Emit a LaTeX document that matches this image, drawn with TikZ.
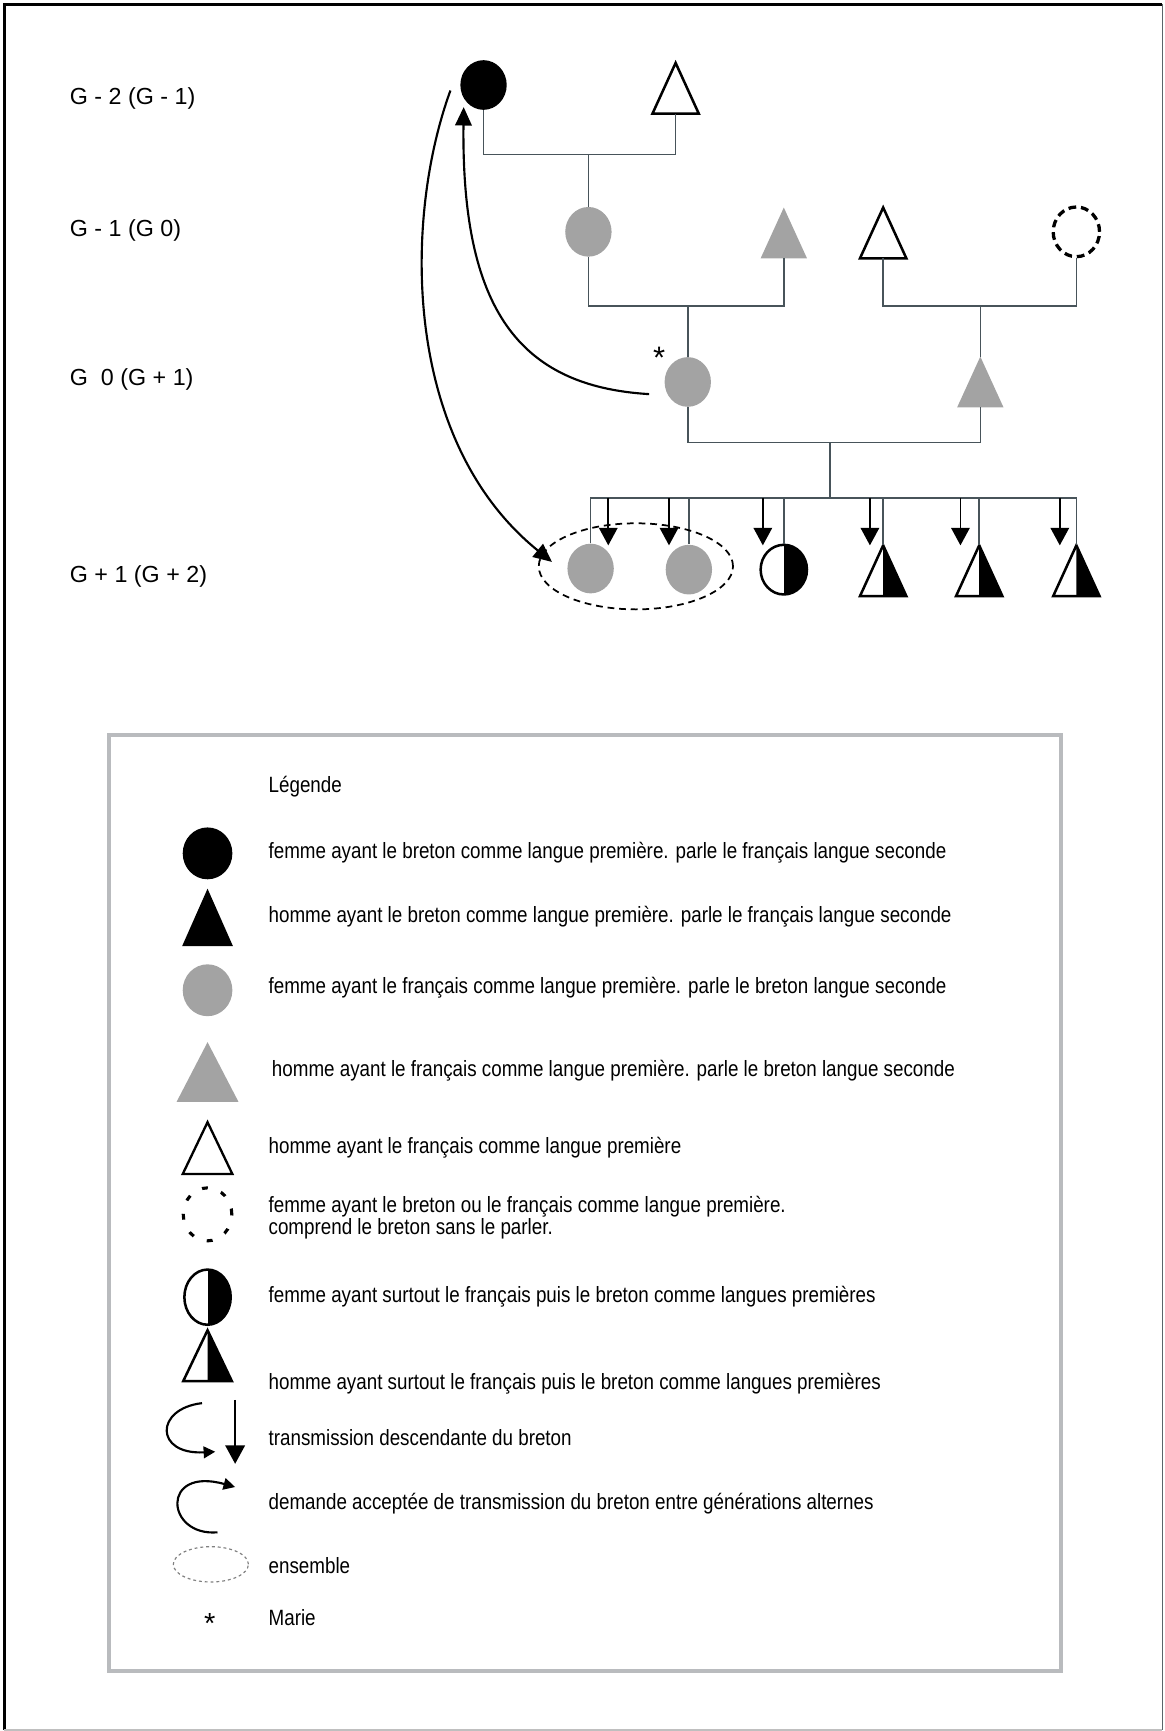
\documentclass[tikz,border=0pt]{standalone}
\usepackage{fontspec}
\setmainfont{Liberation Sans}
\newfontfamily\legfont{Liberation Sans}[FakeStretch=0.85]
\usetikzlibrary{shapes.geometric,arrows.meta}
\definecolor{gfill}{RGB}{163,163,163}
\definecolor{pline}{RGB}{72,84,90}
\definecolor{lbox}{RGB}{185,187,190}
\definecolor{fright}{RGB}{90,100,105}
\tikzset{
  trihw/.store in=\trihw, trih/.store in=\trih, trihw=21, trih=23,
  tri/.pic={\path[pic actions, line join=miter] (0,-\trih) -- (\trihw,\trih) -- (-\trihw,\trih) -- cycle;
    \coordinate (-top) at (0,-\trih); \coordinate (-bot) at (0,\trih);},
  htri/.pic={\begin{scope}\clip (0,-\trih-5) rectangle (\trihw+5,\trih+5);
      \fill[black] (0,-\trih) -- (\trihw,\trih) -- (-\trihw,\trih) -- cycle;\end{scope}
    \draw[line width=1.3pt, line join=miter] (0,-\trih) -- (\trihw,\trih) -- (-\trihw,\trih) -- cycle;
    \coordinate (-top) at (0,-\trih); \coordinate (-bot) at (0,\trih);},
  circ/.style={ellipse, inner sep=0pt, minimum width=0.84cm, minimum height=0.9cm},
  bcirc/.style={circ, fill=black},
  gcirc/.style={circ, fill=gfill},
  dcirc/.style={circ, draw=black, line width=1.7pt, dash pattern=on 4pt off 2.5pt},
  hcirc/.style={circ, draw=black, line width=1.3pt, path picture={\fill[black] (path picture bounding box.north) rectangle (path picture bounding box.south east);}},
  rel/.style={draw=pline, line width=0.8pt},
  dn/.style={draw=black, line width=0.9pt, -{Triangle[width=9.5pt,length=9pt]}},
  curv/.style={draw=black, line width=1.1pt, -{Triangle[width=8.5pt,length=9.5pt]}},
  lab/.style={anchor=west, font=\fontsize{12}{14}\selectfont, inner sep=0pt},
  leg/.style={anchor=west, font=\legfont\fontsize{11.4}{13.5}\selectfont, inner sep=0pt},
}
\begin{document}
\begin{tikzpicture}[x=0.02cm,y=-0.02cm]
\useasboundingbox (0,0) rectangle (1055,1568);
% outer frame
\draw[black, line width=1.2pt] (4,1567) -- (4,4) -- (1053,4);
\draw[fright, line width=0.8pt] (1053,4) -- (1053,1567);
\draw[lightgray, line width=0.6pt] (4,1567) -- (1053,1567);

% generation labels
\node[lab] (g1) at (63,89) {G - 2 (G - 1)};
\node[lab] (g2) at (63,209) {G - 1 (G 0)};
\node[lab] (g3) at (63,344) {G\ \ 0 (G + 1)};
\node[lab] (g4) at (63,522) {G + 1 (G + 2)};

% persons
\node[bcirc] (C1) at (438,77) {};
\pic[draw=black, fill=white, line width=1.3pt] (T1) at (612,80) {tri};
\node[gcirc] (C2) at (533,210) {};
\pic[fill=gfill] (T2) at (710,211) {tri};
\pic[draw=black, fill=white, line width=1.3pt] (T3) at (800,211) {tri};
\node[dcirc] (C3) at (975,210) {};
\node[gcirc] (M) at (623,346) {};
\node[inner sep=0pt, font=\fontsize{16}{16}\selectfont] (star) at (597,324) {*};
\pic[fill=gfill] (T4) at (888,346) {tri};

\node[gcirc] (K1) at (535,515) {};
\node[gcirc] (K2) at (624,516) {};
\node[hcirc] (K3) at (710,516) {};
\pic (K4) at (800,517) {htri};
\pic (K5) at (887,517) {htri};
\pic (K6) at (975,517) {htri};

% kinship lines
\coordinate (u1) at (533,140);
\draw[rel] (C1.south) |- (u1) -| (T1-bot);
\draw[rel] (u1) -- (C2.north);
\coordinate (u2) at (623,277);
\draw[rel] (C2.south) |- (u2) -| (T2-bot);
\draw[rel] (u2) -- (M.north);
\coordinate (u3) at (888,277);
\draw[rel] (T3-bot) |- (u3) -| (C3.south);
\draw[rel] (u3) -- (T4-top);
\coordinate (u4) at (752,401);
\draw[rel] (M.south) |- (u4) -| (T4-bot);
\coordinate (u5) at (752,451);
\draw[rel] (u4) -- (u5);
\draw[rel] (K1.north) |- (u5) -| (K6-top);
\coordinate (s2) at (624,451);
\coordinate (s3) at (710,451);
\coordinate (s4) at (800,451);
\coordinate (s5) at (887,451);
\draw[rel] (s2) -- (K2.north);
\draw[rel] (s3) -- (K3.north);
\draw[rel] (s4) -- (K4-top);
\draw[rel] (s5) -- (K5-top);

% transmission arrows
\foreach \i/\x in {1/551,2/606,3/691,4/788,5/870,6/960}{
  \coordinate (a\i s) at (\x,451);
  \coordinate (a\i e) at (\x,494);
  \draw[dn] (a\i s) -- (a\i e);
}

% ensemble
\node[ellipse, draw=black, line width=0.9pt, dash pattern=on 3.5pt off 2.5pt, minimum width=3.52cm, minimum height=1.56cm, inner sep=0pt] (E) at (576,513) {};

% alternate generation curves
\coordinate (q1) at (588,357);
\coordinate (q2) at (420,97);
\draw[curv] (q1) .. controls (470,350) and (418,280) .. (q2);
\coordinate (q3) at (408,82);
\coordinate (q4) at (500,509);
\draw[curv] (q3) .. controls (365,200) and (365,400) .. (q4);

% legend box
\draw[lbox, line width=2pt] (99,666) rectangle (961,1514);
\node[leg] (h0) at (243,713) {Légende};

\node[bcirc, minimum width=0.9cm, minimum height=0.94cm] (L1) at (188,773) {};
\node[leg] (t1) at (243,772) {femme ayant le breton comme langue première. parle le français langue seconde};
\pic[fill=black, trihw=23, trih=26] (L2) at (188,831) {tri};
\node[leg] (t2) at (243,830) {homme ayant le breton comme langue première. parle le français langue seconde};
\node[gcirc, minimum width=0.9cm, minimum height=0.94cm] (L3) at (188,897) {};
\node[leg] (t3) at (243,895) {femme ayant le français comme langue première. parle le breton langue seconde};
\pic[fill=gfill, trihw=28, trih=27] (L4) at (188,971) {tri};
\node[leg] (t4) at (246,970) {homme ayant le français comme langue première. parle le breton langue seconde};
\pic[draw=black, fill=white, line width=1.2pt, trihw=22.5, trih=23.5] (L5) at (188,1040) {tri};
\node[leg] (t5) at (243,1040) {homme ayant le français comme langue première};
\node[circ, draw=black, line width=1.6pt, dash pattern=on 3pt off 7.2pt, minimum width=0.88cm, minimum height=0.96cm] (L6) at (188,1100) {};
\node[leg] (t6a) at (243,1093) {femme ayant le breton ou le français comme langue première.};
\node[leg] (t6b) at (243,1113) {comprend le breton sans le parler.};
\node[hcirc, minimum width=0.84cm, minimum height=1cm] (L7) at (188,1175) {};
\node[leg] (t7) at (243,1175) {femme ayant surtout le français puis le breton comme langues premières};
\pic[trihw=22, trih=23] (L8) at (188,1228) {htri};
\node[leg] (t8) at (243,1253) {homme ayant surtout le français puis le breton comme langues premières};

\draw[black, line width=1.1pt, -{Triangle[width=6pt,length=6pt]}] (183,1271) .. controls (140,1276) and (140,1318) .. (195,1315);
\draw[black, line width=1.1pt, -{Triangle[width=10pt,length=9.5pt]}] (213,1268) -- (213,1326);
\node[leg] (t9) at (243,1302) {transmission descendante du breton};

\draw[black, line width=1.1pt, -{Triangle[width=6pt,length=6pt]}] (197,1388) .. controls (150,1392) and (145,1328) .. (213,1347);
\node[leg] (t10) at (243,1362) {demande acceptée de transmission du breton entre générations alternes};

\node[ellipse, draw=gray, line width=0.6pt, dash pattern=on 1.5pt off 1.5pt, minimum width=1.36cm, minimum height=0.64cm, inner sep=0pt] (L11) at (191,1417) {};
\node[leg] (t11) at (243,1418) {ensemble};

\node[inner sep=0pt, font=\fontsize{15}{15}\selectfont] (L12) at (190,1471) {*};
\node[leg] (t12) at (243,1465) {Marie};
\end{tikzpicture}
\end{document}
